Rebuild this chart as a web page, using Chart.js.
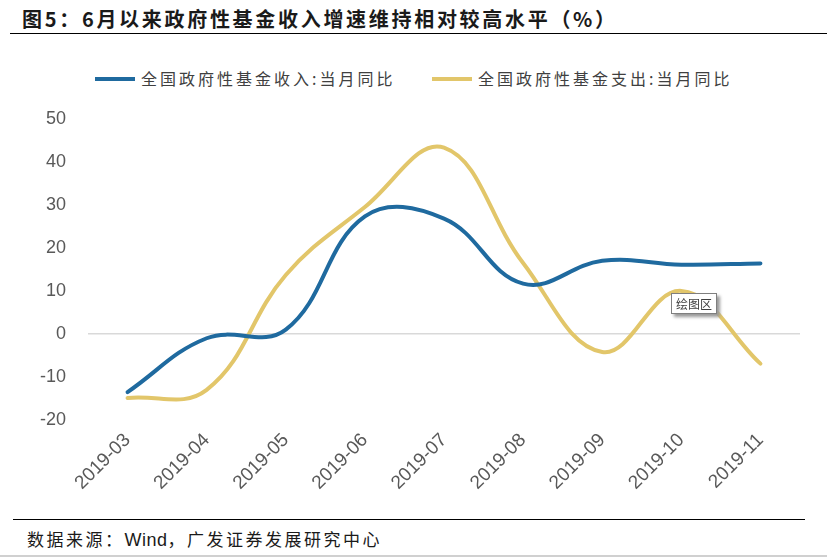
<!DOCTYPE html>
<html>
<head>
<meta charset="utf-8">
<script src="https://cdn.jsdelivr.net/npm/chart.js@4/dist/chart.umd.min.js"></script>
<style>
  body { margin: 0; background: #fff; width: 827px; height: 558px; position: relative; overflow: hidden; }
  #title { position: absolute; left: 22px; top: 4px; font: bold 20px "Noto Sans CJK SC"; letter-spacing: 2.7px; color: #1a1a1a; white-space: nowrap; }
  #rule-top { position: absolute; left: 10px; right: 0; top: 33px; border-top: 1.5px solid #000; }
  #rule-bottom { position: absolute; left: 13px; width: 792px; top: 519px; border-top: 1.5px solid #000; }
  #rule-edge { position: absolute; left: 0; right: 0; top: 555px; border-top: 2px solid #d0d0d0; }
  #legend { position: absolute; top: 66px; left: 95px; font: 16px "Noto Sans CJK SC"; color: #404040; white-space: nowrap; letter-spacing: 3px; }
  #legend span.item { position: absolute; top: 0; }
  #legend i { display: inline-block; width: 40px; height: 4px; vertical-align: middle; margin-right: 6px; position: relative; top: -2px; }
  #source { position: absolute; left: 27px; top: 526px; font: 17px "Noto Sans CJK SC"; color: #1a1a1a; white-space: nowrap; letter-spacing: 2.5px; }
  #source .en { font-family: "Liberation Sans"; font-size: 18px; letter-spacing: 0.5px; }
  #tag { position: absolute; left: 671px; top: 293px; padding: 1px 4px; border: 1px solid #7f7f7f; background: #fff; font: 12px "Noto Sans CJK SC"; color: #404040; box-shadow: 3px 3px 3px #9a9a9a; }
  #wrap { position: absolute; left: 0; top: 86px; width: 827px; height: 434px; }
</style>
</head>
<body>
<div id="title">图5：6月以来政府性基金收入增速维持相对较高水平（%）</div>
<div id="rule-top"></div>
<div id="legend"></div>
<div id="wrap"><canvas id="chart"></canvas></div>
<div id="tag">绘图区</div>
<div id="rule-bottom"></div>
<div id="source">数据来源：<span class="en">Wind</span>，广发证券发展研究中心</div>
<div id="rule-edge"></div>
<script>
const months = ["2019-03", "2019-04", "2019-05", "2019-06", "2019-07", "2019-08", "2019-09", "2019-10", "2019-11"];
const incomeYoY = [-13.5, -1.0, 1.0, 27.3, 26.8, 11.7, 17.0, 16.1, 16.4];
const spendYoY = [-14.9, -13.0, 13.7, 29.5, 43.3, 16.5, -4.2, 10.0, -6.9];
const seriesNames = ["全国政府性基金收入:当月同比", "全国政府性基金支出:当月同比"];
const seriesColors = ["#1F6A9F", "#E2C66A"];
const yTicks = { min: -20, max: 50, step: 10 };

// html legend, same order as the datasets
const legend = document.getElementById("legend");
const legendLeft = [0, 337];
seriesNames.forEach((name, i) => {
  const item = document.createElement("span");
  item.className = "item";
  item.style.left = legendLeft[i] + "px";
  item.innerHTML = `<i style="background:${seriesColors[i]}"></i>${name}`;
  legend.appendChild(item);
});

const chart = new Chart(document.getElementById("chart"), {
  type: "line",
  data: {
    labels: months,
    datasets: [
      { label: seriesNames[0], data: incomeYoY, borderColor: seriesColors[0], backgroundColor: seriesColors[0] },
      { label: seriesNames[1], data: spendYoY, borderColor: seriesColors[1], backgroundColor: seriesColors[1] },
    ],
  },
  options: {
    responsive: true,
    maintainAspectRatio: false,
    animation: false,
    layout: { padding: { top: 3, right: 27, left: 0, bottom: 0 } },
    elements: {
      line: { borderWidth: 4, tension: 0.4, borderCapStyle: "round" },
      point: { radius: 0 },
    },
    scales: {
      x: {
        offset: true,
        grid: { display: false },
        border: { display: false },
        ticks: {
          color: "#595959",
          font: { family: "Liberation Sans", size: 19 },
          minRotation: 45,
          maxRotation: 45,
          padding: 1,
        },
        afterFit: (scale) => { scale.height = 100; },
      },
      y: {
        min: yTicks.min,
        max: yTicks.max,
        border: { display: false },
        grid: {
          drawTicks: false,
          lineWidth: 1.5,
          color: (ctx) => (ctx.tick && ctx.tick.value === 0 ? "#d9d9d9" : "transparent"),
        },
        ticks: {
          stepSize: yTicks.step,
          color: "#595959",
          font: { family: "Liberation Sans", size: 18 },
          padding: 22,
        },
        afterFit: (scale) => { scale.width = 88; },
      },
    },
    plugins: {
      legend: { display: false },
      tooltip: { enabled: false },
    },
  },
});
</script>
</body>
</html>
